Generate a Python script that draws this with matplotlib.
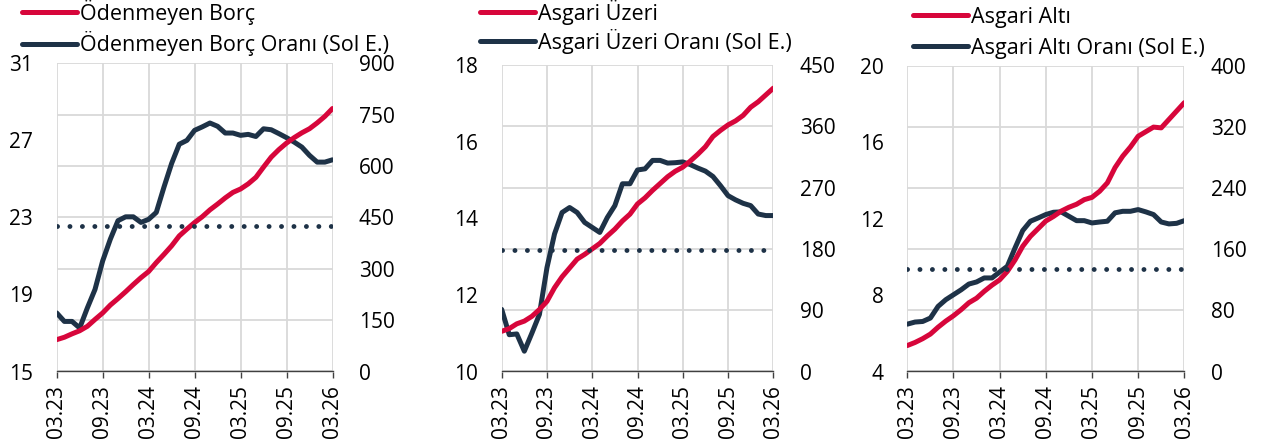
import matplotlib
matplotlib.use("Agg")
import matplotlib.pyplot as plt

plt.rcParams['font.family'] = ['Open Sans', 'DejaVu Sans']
plt.rcParams['font.size'] = 15

RED = '#D7063B'
NAVY = '#1E3247'
GRID = '#D9D9D9'

# monthly, 03.23 .. 03.26 (37 points)
tick_labels = ['03.23', '09.23', '03.24', '09.24', '03.25', '09.25', '03.26']

# panel 1
borc = [93, 100, 110, 119, 132, 152, 171, 194, 213, 233, 254, 274, 292, 318,
        342, 367, 396, 416, 435, 452, 472, 489, 507, 523, 533, 548, 567, 597,
        626, 648, 667, 683, 697, 709, 726, 745, 768]
borc_orani = [18.04, 17.6, 17.6, 17.26, 18.3, 19.26, 20.74, 21.87, 22.83, 23.03,
              23.03, 22.74, 22.9, 23.26, 24.57, 25.8, 26.8, 27.0, 27.52, 27.7,
              27.9, 27.73, 27.38, 27.38, 27.26, 27.31, 27.2, 27.6, 27.55, 27.35,
              27.14, 26.91, 26.65, 26.22, 25.87, 25.87, 25.99]
borc_ort = 22.57

# panel 2
uzeri = [59, 63, 70, 74, 81, 91, 103, 123, 139, 152, 165, 172, 180, 188, 199,
         209, 221, 231, 246, 255, 266, 276, 286, 294, 300, 309, 319, 330, 345,
         354, 362, 368, 376, 388, 396, 406, 416]
uzeri_orani = [11.62, 10.96, 10.98, 10.53, 11.0, 11.49, 12.71, 13.59, 14.15,
               14.28, 14.15, 13.89, 13.76, 13.63, 14.02, 14.33, 14.9, 14.9,
               15.26, 15.29, 15.51, 15.51, 15.44, 15.45, 15.47, 15.4, 15.31,
               15.23, 15.09, 14.85, 14.59, 14.48, 14.39, 14.33, 14.11, 14.07,
               14.07]
uzeri_ort = 13.18

# panel 3
alti = [34, 38, 43, 49, 58, 66, 73, 81, 90, 96, 105, 113, 120, 131, 146, 164,
        177, 187, 197, 203, 210, 215, 219, 225, 228, 236, 247, 267, 282, 294,
        308, 314, 320, 319, 330, 341, 352]
alti_orani = [6.48, 6.59, 6.62, 6.8, 7.41, 7.76, 8.02, 8.28, 8.58, 8.69, 8.9,
              8.9, 9.21, 9.51, 10.47, 11.38, 11.87, 12.04, 12.22, 12.34, 12.36,
              12.13, 11.9, 11.9, 11.78, 11.83, 11.87, 12.31, 12.39, 12.39, 12.48,
              12.36, 12.22, 11.83, 11.73, 11.76, 11.9]
alti_ort = 9.37

W, H = 1261, 448
fig = plt.figure(figsize=(W / 100, H / 100), dpi=100)


def px_axes(left, right, top, bottom):
    return fig.add_axes([left / W, 1 - bottom / H, (right - left) / W, (bottom - top) / H])


def panel(box, red, navy, avg, names, lticks, rticks, leg_xy, leg_sp):
    ax = px_axes(*box)
    ax2 = ax.twinx()
    x = list(range(len(red)))

    ax.set_xlim(0, len(x) - 1)
    ax.set_xticks(range(0, len(x), 6))
    ax.set_xticklabels(tick_labels, rotation=90)
    ax.set_ylim(lticks[0], lticks[-1])
    ax.set_yticks(lticks)
    ax2.set_ylim(rticks[0], rticks[-1])
    ax2.set_yticks(rticks)

    # left-axis series drawn in ax2's layer (above its grid), on ax's scale
    l2, = ax2.plot(x, navy, color=NAVY, lw=3.6, solid_capstyle='round',
                   zorder=2, transform=ax.transData)
    l1, = ax2.plot(x, red, color=RED, lw=3.6, solid_capstyle='round', zorder=2.5)
    ax2.plot(x, [avg] * len(x), color=NAVY, lw=3.5, ls=(0, (0.01, 2.55)),
             dash_capstyle='round', zorder=3, transform=ax.transData)

    ax2.grid(axis='y', color=GRID, lw=1.3)
    ax.grid(axis='x', color=GRID, lw=1.3)
    ax.set_axisbelow(True)
    ax2.set_axisbelow(True)

    for a in (ax, ax2):
        for s in ('left', 'right', 'top', 'bottom'):
            a.spines[s].set_visible(False)
    ax2.spines['bottom'].set_visible(True)
    ax2.spines['bottom'].set_color('#404040')
    ax2.spines['bottom'].set_linewidth(1.0)

    ax.tick_params(axis='x', length=4, width=1, color='#404040', pad=6)
    ax.tick_params(axis='y', length=0, pad=17)
    ax2.tick_params(axis='y', length=0, pad=19)
    ax2.set_zorder(ax.get_zorder() + 1)
    ax2.patch.set_visible(False)

    ax.legend([l1, l2], names, loc='upper left',
              bbox_to_anchor=(leg_xy[0] / W, 1 - leg_xy[1] / H),
              bbox_transform=fig.transFigure, frameon=False, borderpad=0,
              borderaxespad=0, handlelength=2.55, handletextpad=0.15,
              labelspacing=leg_sp, fontsize=15.5)
    return ax, ax2


panel((56.7, 332.5, 63.3, 371.5), borc, borc_orani, borc_ort,
      ['Ödenmeyen Borç', 'Ödenmeyen Borç Oranı (Sol E.)'],
      [15, 19, 23, 27, 31], [0, 150, 300, 450, 600, 750, 900], (22, 0), 0.3)
panel((501.7, 773.3, 65, 371.5), uzeri, uzeri_orani, uzeri_ort,
      ['Asgari Üzeri', 'Asgari Üzeri Oranı (Sol E.)'],
      [10, 12, 14, 16, 18], [0, 90, 180, 270, 360, 450], (480, 0), 0.18)
panel((907.3, 1184.3, 66, 371.5), alti, alti_orani, alti_ort,
      ['Asgari Altı', 'Asgari Altı Oranı (Sol E.)'],
      [4, 8, 12, 16, 20], [0, 80, 160, 240, 320, 400], (913, 7), 0.45)

fig.savefig('out.png', dpi=100)
